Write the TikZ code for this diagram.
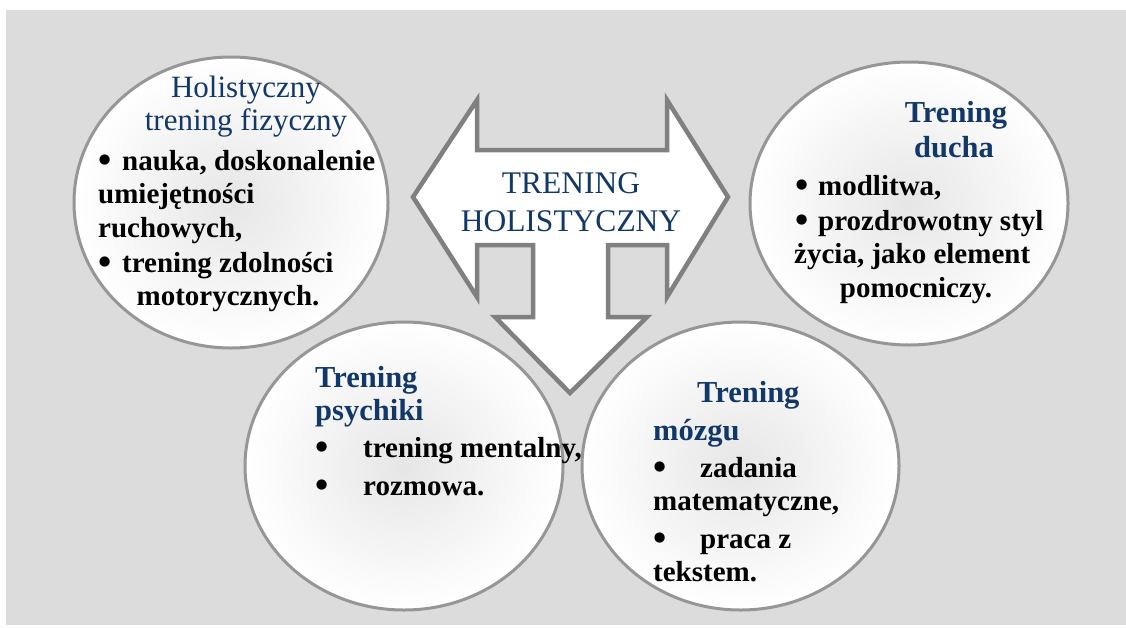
\documentclass[tikz,border=0pt]{standalone}
\usepackage{fontspec}
\setmainfont{Liberation Serif}
\usetikzlibrary{shapes.geometric}
\definecolor{bggrey}{RGB}{220,220,220}
\definecolor{ellline}{RGB}{150,150,150}
\definecolor{arrline}{RGB}{128,128,128}
\definecolor{navy}{RGB}{18,56,104}
\definecolor{shadegrey}{RGB}{230,230,230}
\newcommand{\bul}[1]{\makebox[#1][l]{\raisebox{-0.1em}{\scalebox{1.3}{\textbullet}}}}
\tikzset{
  ell/.style={ellipse, draw=ellline, line width=3pt, inner color=shadegrey, outer color=white, inner sep=0pt},
  ttl/.style={inner sep=0pt, text=navy, font=\fontsize{31}{34}\selectfont},
  bttl/.style={inner sep=0pt, text=navy, font=\fontsize{30.5}{34}\selectfont\bfseries},
  body/.style={inner sep=0pt, text=black, font=\fontsize{29}{34}\selectfont\bfseries},
  arr/.style={draw=arrline, line width=4.5pt, fill=white, line join=miter}
}
\begin{document}
\begin{tikzpicture}[x=1pt,y=-1pt]
\useasboundingbox (0,0) rectangle (1126,627);
\fill[bggrey] (6,10) rectangle (1126,625);
% ellipses
\node[ell, minimum width=314pt, minimum height=291pt] (e1) at (231,202.5) {};
\node[ell, minimum width=318pt, minimum height=283pt] (e2) at (909,203.5) {};
\node[ell, minimum width=318pt, minimum height=288pt] (e3) at (404,466) {};
\node[ell, minimum width=317pt, minimum height=288pt] (e4) at (740.5,466) {};
% arrow
\draw[arr] (413,197) -- (477,100) -- (477,150) -- (667,150) -- (667,100) -- (728,197)
  -- (667,297) -- (667,245) -- (608,245) -- (608,317) -- (647,317) -- (570,393)
  -- (495,317) -- (533,317) -- (533,245) -- (477,245) -- (477,297) -- cycle;
\node[ttl, anchor=base, font=\fontsize{31.5}{34}\selectfont] (c1) at (571,193) {TRENING};
\node[ttl, anchor=base, font=\fontsize{31.5}{34}\selectfont] (c2) at (571,231) {HOLISTYCZNY};
% top-left
\node[ttl, anchor=base] (a1) at (246,97) {Holistyczny};
\node[ttl, anchor=base] (a2) at (246,130) {trening fizyczny};
\node[body, anchor=base west] (a3) at (98,170) {\bul{24pt}nauka, doskonalenie};
\node[body, anchor=base west] (a4) at (98,203) {umiejętności};
\node[body, anchor=base west] (a5) at (98,237) {ruchowych,};
\node[body, anchor=base west] (a6) at (98,272) {\bul{24pt}trening zdolności};
\node[body, anchor=base] (a7) at (228,305) {motorycznych.};
% top-right
\node[bttl, anchor=base] (b1) at (956,122) {Trening};
\node[bttl, anchor=base] (b2) at (954,157) {ducha};
\node[body, anchor=base west] (b3) at (795,195) {\bul{23pt}modlitwa,};
\node[body, anchor=base west] (b4) at (795,230) {\bul{23pt}prozdrowotny styl};
\node[body, anchor=base west] (b5) at (794,263) {życia, jako element};
\node[body, anchor=base] (b6) at (916,297) {pomocniczy.};
% bottom-left
\node[bttl, anchor=base west] (d1) at (315,387) {Trening};
\node[bttl, anchor=base west] (d2) at (315,420) {psychiki};
\node[body, anchor=base west] (d3) at (315,457) {\bul{48pt}trening mentalny,};
\node[body, anchor=base west] (d4) at (315,495) {\bul{48pt}rozmowa.};
% bottom-right
\node[bttl, anchor=base west] (f1) at (697,402) {Trening};
\node[bttl, anchor=base west] (f2) at (653,440) {mózgu};
\node[body, anchor=base west] (f3) at (653,477) {\bul{47pt}zadania};
\node[body, anchor=base west] (f4) at (653,510) {matematyczne,};
\node[body, anchor=base west] (f5) at (653,548) {\bul{47pt}praca z};
\node[body, anchor=base west] (f6) at (653,581) {tekstem.};
\end{tikzpicture}
\end{document}
